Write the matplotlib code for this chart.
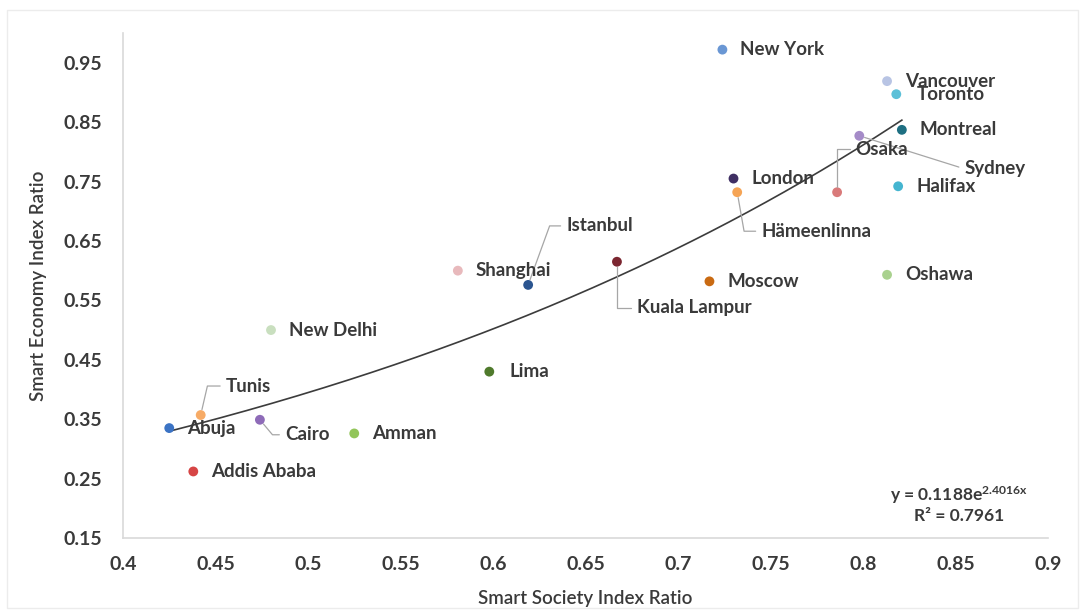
import numpy as np
import matplotlib.pyplot as plt
from matplotlib.patches import Rectangle

cities = ["New York", "Vancouver", "Toronto", "Montreal", "Sydney", "Osaka",
          "London", "Hämeenlinna", "Halifax", "Istanbul", "Shanghai",
          "Kuala Lampur", "Moscow", "Oshawa", "New Delhi", "Lima", "Tunis",
          "Abuja", "Cairo", "Amman", "Addis Ababa"]
society = [0.724, 0.813, 0.818, 0.821, 0.798, 0.786,
           0.730, 0.732, 0.819, 0.619, 0.581,
           0.667, 0.717, 0.813, 0.480, 0.598, 0.442,
           0.425, 0.474, 0.525, 0.438]
economy = [0.972, 0.919, 0.897, 0.837, 0.827, 0.732,
           0.755, 0.732, 0.742, 0.576, 0.600,
           0.615, 0.582, 0.593, 0.500, 0.430, 0.357,
           0.335, 0.349, 0.326, 0.262]
colors = ["#6a97d4", "#b8c4e4", "#5cc0d8", "#1e6f82", "#a58bc8", "#d97a7a",
          "#3f2f63", "#f5a455", "#45b5d0", "#2b5590", "#e8b9bc",
          "#7b2630", "#c96a12", "#a9d18e", "#c9dfbf", "#4f7a2c", "#f7ab66",
          "#3b73c4", "#8e6bb8", "#92c55a", "#d64545"]

# exponential trendline y = a*exp(b*x)
fit_a = 0.1188
fit_b = 2.4016
fit_r2 = 0.7961

xticks = [0.4, 0.45, 0.5, 0.55, 0.6, 0.65, 0.7, 0.75, 0.8, 0.85, 0.9]
yticks = [0.15, 0.25, 0.35, 0.45, 0.55, 0.65, 0.75, 0.85, 0.95]

# label offsets in pixels (dx right, dy up) and leader angle at the point
px = 0.72
offsets = {
    "Osaka": (18, 43, 90),
    "Sydney": (105, -33, None),
    "Hämeenlinna": (24, -39, -80),
    "Kuala Lampur": (20, -46, 90),
    "Istanbul": (38, 59, 70),
    "Tunis": (25, 29, 77),
    "Cairo": (25, -15, -50),
    "Toronto": (20, 0, None),
    "Lima": (20, 0, None),
}

plt.rcParams['font.family'] = ['Lato', 'DejaVu Sans']
txt = "#3a3a3a"

fig = plt.figure(figsize=(10.85, 6.15), dpi=100)
fig.patches.append(Rectangle((0.006, 0.012), 0.988, 0.972,
                             transform=fig.transFigure, fill=False,
                             edgecolor="#ececec", linewidth=1))
ax = fig.add_axes([123/1085, 77/615, 925/1085, 505/615])

xs = np.linspace(min(society), max(society), 200)
ax.plot(xs, fit_a*np.exp(fit_b*xs), color="#3c3c3c", lw=1.2, zorder=2)

ax.scatter(society, economy, s=50, c=colors, linewidths=0, zorder=3)

for name, x, y in zip(cities, society, economy):
    dx, dy, ang = offsets.get(name, (18, 0, None))
    props = None
    if name in offsets and (abs(dy) > 5):
        if ang is None:
            cs = "arc3,rad=0"
        else:
            cs = f"angle,angleA=0,angleB={ang},rad=0"
        props = dict(arrowstyle="-", color="#a6a6a6", lw=0.9,
                     connectionstyle=cs, relpos=(0, 0.5),
                     shrinkA=2, shrinkB=4)
    ax.annotate(name, (x, y), xytext=(dx*px, dy*px),
                textcoords="offset points", ha="left", va="center",
                fontsize=13.5, fontweight="bold", color=txt,
                arrowprops=props, zorder=4)

eq = f"y = {fit_a}e$\\mathregular{{^{{{fit_b}x}}}}$\nR² = {fit_r2}"
ax.text(0.852, 0.207, eq, ha="center", va="center", fontsize=12.5,
        fontweight="bold", color=txt, linespacing=1.15)

ax.set_xlim(0.4, 0.9)
ax.set_ylim(0.15, 1.0)
ax.set_xticks(xticks)
ax.set_yticks(yticks)
ax.set_xticklabels([f"{v:g}" for v in xticks])
ax.set_yticklabels([f"{v:g}" for v in yticks])
ax.tick_params(length=0, labelsize=14, labelcolor=txt)
ax.tick_params(axis="x", pad=13)
ax.tick_params(axis="y", pad=15)
for lab in ax.get_xticklabels() + ax.get_yticklabels():
    lab.set_fontweight("bold")

for side in ["top", "right"]:
    ax.spines[side].set_visible(False)
for side in ["left", "bottom"]:
    ax.spines[side].set_color("#d9d9d9")
    ax.spines[side].set_linewidth(1.2)

ax.set_xlabel("Smart Society Index Ratio", fontsize=13.5, color=txt,
              fontweight="semibold")
ax.set_ylabel("Smart Economy Index Ratio", fontsize=13.5, color=txt,
              fontweight="semibold")
ax.xaxis.set_label_coords(0.5, -0.103)
ax.yaxis.set_label_coords(-0.082, 0.5)

fig.savefig("out.png", dpi=100)
